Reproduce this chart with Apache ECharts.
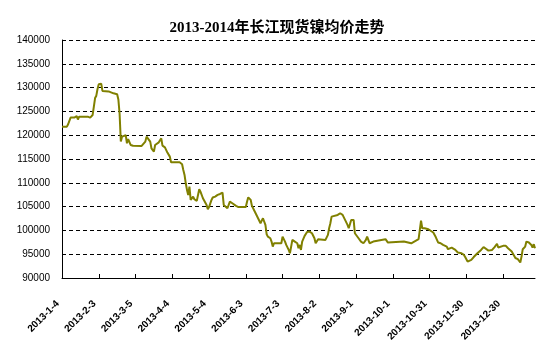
<!DOCTYPE html>
<html>
<head>
<meta charset="utf-8">
<script src="https://cdn.jsdelivr.net/npm/echarts@6/dist/echarts.min.js"></script>
<style>
html,body{margin:0;padding:0;background:#fff;}
#chart{width:553px;height:357px;}
</style>
</head>
<body>
<div id="chart"></div>
<script>
const titleText = '2013-2014年长江现货镍均价走势';
const startDate = '2013-01-04';
const endDate = '2014-01-25';
const xTickLabels = ['2013-1-4','2013-2-3','2013-3-5','2013-4-4','2013-5-4','2013-6-3','2013-7-3','2013-8-2','2013-9-1','2013-10-1','2013-10-31','2013-11-30','2013-12-30'];
const yMin = 90000, yMax = 140000, yStep = 5000;

const dates = [
'2013-01-04','2013-01-08','2013-01-09','2013-01-11','2013-01-14','2013-01-15','2013-01-16','2013-01-17','2013-01-18','2013-01-25',
'2013-01-27','2013-01-29','2013-01-30','2013-01-31','2013-02-01','2013-02-02','2013-02-03','2013-02-05','2013-02-06','2013-02-11',
'2013-02-15','2013-02-18','2013-02-19','2013-02-20','2013-02-21','2013-02-22','2013-02-25','2013-02-26','2013-02-27','2013-03-01',
'2013-03-03','2013-03-10','2013-03-13','2013-03-14','2013-03-17','2013-03-18','2013-03-19','2013-03-20','2013-03-21','2013-03-24',
'2013-03-26','2013-03-27','2013-03-29','2013-03-31','2013-04-02','2013-04-03','2013-04-10','2013-04-12','2013-04-13','2013-04-14',
'2013-04-15','2013-04-16','2013-04-17','2013-04-18','2013-04-19','2013-04-21','2013-04-22','2013-04-24','2013-04-26','2013-04-27',
'2013-04-29','2013-05-02','2013-05-03','2013-05-04','2013-05-06','2013-05-07','2013-05-09','2013-05-10','2013-05-11','2013-05-13',
'2013-05-15','2013-05-16','2013-05-17','2013-05-19','2013-05-21','2013-05-23','2013-05-26','2013-05-28','2013-06-03','2013-06-04',
'2013-06-05','2013-06-07','2013-06-08','2013-06-11','2013-06-13','2013-06-15','2013-06-16','2013-06-17','2013-06-19','2013-06-20',
'2013-06-21','2013-06-23','2013-06-24','2013-06-25','2013-06-26','2013-07-02','2013-07-03','2013-07-05','2013-07-06','2013-07-08',
'2013-07-09','2013-07-10','2013-07-11','2013-07-13','2013-07-15','2013-07-16','2013-07-17','2013-07-18','2013-07-19','2013-07-21',
'2013-07-23','2013-07-25','2013-07-27','2013-07-29','2013-07-30','2013-08-01','2013-08-07','2013-08-08','2013-08-09','2013-08-10',
'2013-08-11','2013-08-12','2013-08-13','2013-08-17','2013-08-19','2013-08-21','2013-08-23','2013-08-25','2013-08-26','2013-08-27',
'2013-08-28','2013-08-29','2013-08-30','2013-08-31','2013-09-01','2013-09-03','2013-09-05','2013-09-07','2013-09-09','2013-09-10',
'2013-09-11','2013-09-12','2013-09-15','2013-09-25','2013-09-26','2013-09-27','2013-10-10','2013-10-11','2013-10-16','2013-10-17',
'2013-10-22','2013-10-23','2013-10-24','2013-10-25','2013-10-27','2013-10-30','2013-10-31','2013-11-03','2013-11-04','2013-11-05',
'2013-11-07','2013-11-09','2013-11-11','2013-11-14','2013-11-15','2013-11-18','2013-11-19','2013-11-21','2013-11-23','2013-11-26',
'2013-11-27','2013-11-28','2013-11-29','2013-12-01','2013-12-02','2013-12-04','2013-12-06','2013-12-09','2013-12-10','2013-12-12',
'2013-12-14','2013-12-18','2013-12-19','2013-12-21','2013-12-23','2013-12-25','2013-12-26','2013-12-30','2014-01-01','2014-01-03',
'2014-01-06','2014-01-07','2014-01-09','2014-01-11','2014-01-13','2014-01-14','2014-01-15','2014-01-17','2014-01-18','2014-01-20',
'2014-01-22','2014-01-23','2014-01-24','2014-01-25'
];

const prices = [
121800,121800,122300,123700,123700,123400,124000,123300,123900,123900,
123700,124250,126000,127800,128300,129700,130700,130800,129300,129200,
128800,128600,127500,124500,118700,119700,120000,118300,119200,117950,
117800,117750,118650,119700,118650,117250,116900,116550,117950,118500,
119350,117800,117450,116350,115500,114300,114300,113900,112700,111650,
109900,108500,107450,109200,106400,107100,106550,106200,108650,108150,
106750,105350,104450,104900,106400,106900,107100,107250,107450,107650,
107950,105350,105000,104650,106050,105700,105150,104900,104900,106000,
106950,106400,105150,103600,102550,101500,102050,102550,101150,99200,
98700,98350,97650,96600,97300,97300,98700,97650,96950,95900,
95200,94850,98000,97650,97300,96250,96950,95900,97650,98850,
99650,99750,99400,98350,97300,98150,98000,97650,99050,100450,
101500,102900,103250,103250,103600,103250,102200,101150,100450,100450,
102200,102550,102200,99400,99050,98350,97650,97300,98000,98700,
98000,97300,97650,98150,98150,97450,97650,97650,97300,97300,
98150,98150,102050,100450,100450,100250,100100,99550,99300,98600,
97450,97300,96950,96600,96050,96400,96400,95900,95350,95200,
95100,94850,94400,93450,93600,93800,94400,95200,95350,95900,
96500,95750,95750,95900,96500,97200,96400,96750,96800,96250,
95550,95550,94200,93950,93250,94500,96050,96600,97650,97450,
96950,96400,97100,96250
];

function toUTC(s){ const p = s.split('-').map(Number); return Date.UTC(p[0], p[1]-1, p[2]); }
const t0 = toUTC(startDate);
function dayIndex(s){ return Math.round((toUTC(s) - t0) / 86400000); }

const seriesData = dates.map((d, i) => [dayIndex(d), prices[i]]);
const tickDays = xTickLabels.map(dayIndex);
const labelByDay = {};
tickDays.forEach((d, i) => { labelByDay[d] = xTickLabels[i]; });

const chart = echarts.init(document.getElementById('chart'), null, {renderer: 'canvas'});
chart.setOption({
  animation: false,
  backgroundColor: '#ffffff',
  title: {
    text: titleText,
    left: 272,
    top: 16,
    textAlign: 'center',
    textStyle: {
      fontFamily: "'Liberation Serif', 'Noto Sans CJK SC', serif",
      fontSize: 15,
      fontWeight: 'bold',
      color: '#000'
    }
  },
  grid: { left: 62, right: 18, top: 40, bottom: 79, containLabel: false },
  xAxis: {
    type: 'value',
    min: 0,
    max: dayIndex(endDate),
    axisLine: { show: true, lineStyle: { color: '#000', width: 1 } },
    axisTick: { show: true, inside: true, length: 4, lineStyle: { color: '#000' }, customValues: tickDays },
    axisLabel: {
      customValues: tickDays,
      rotate: 45,
      margin: 20,
      padding: [0, 6, 0, 0],
      fontSize: 10,
      fontWeight: 'bold',
      fontFamily: "'Liberation Sans', Arial, sans-serif",
      color: '#000',
      formatter: v => labelByDay[v] || ''
    },
    splitLine: { show: false }
  },
  yAxis: {
    type: 'value',
    min: yMin,
    max: yMax,
    interval: yStep,
    axisLine: { show: true, lineStyle: { color: '#000', width: 1 } },
    axisTick: { show: false },
    axisLabel: {
      margin: 12,
      fontSize: 10,
      fontFamily: "'Liberation Sans', Arial, sans-serif",
      color: '#000',
      formatter: v => String(v)
    },
    splitLine: { show: true, lineStyle: { color: '#000', type: [4, 3], width: 1 } }
  },
  series: [{
    type: 'line',
    data: seriesData,
    showSymbol: false,
    lineStyle: { color: '#808000', width: 2 },
    itemStyle: { color: '#808000' }
  }]
});
</script>
</body>
</html>
